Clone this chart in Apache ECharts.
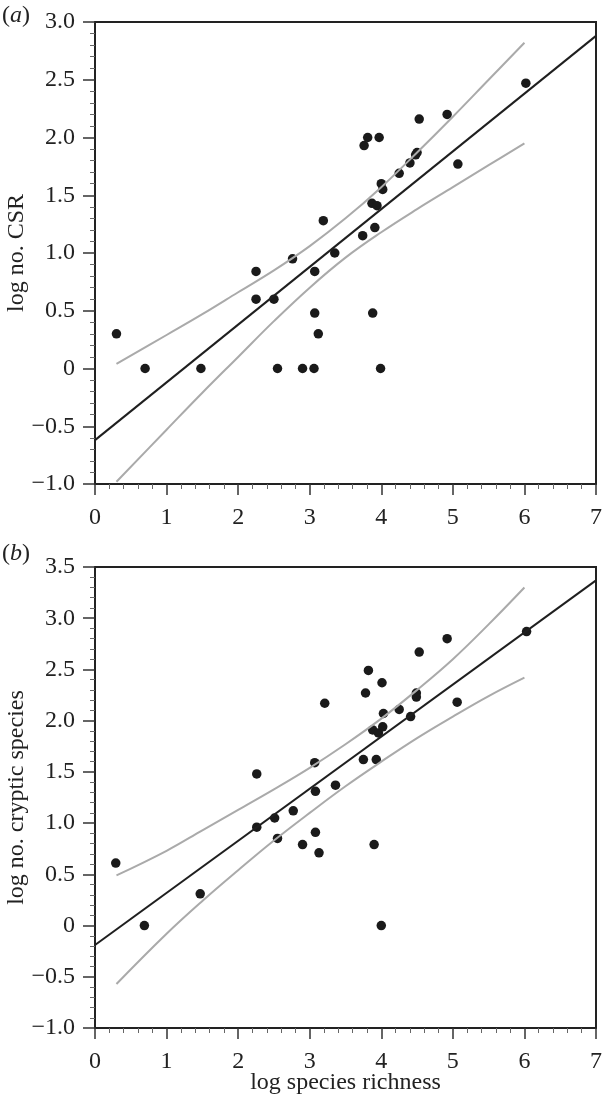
<!DOCTYPE html>
<html>
<head>
<meta charset="utf-8">
<script src="https://cdn.jsdelivr.net/npm/echarts@6/dist/echarts.min.js"></script>
<style>
  html, body { margin: 0; padding: 0; background: #fff; }
  #chart-container { width: 605px; height: 1097px; }
</style>
</head>
<body>
<div id="chart-container"></div>
<script>
// log species richness per site (same sites in both panels)
const richnessA = [0.30, 0.70, 1.48, 2.25, 2.25, 2.50, 2.55, 2.76, 2.90, 3.06, 3.07, 3.07, 3.12, 3.19, 3.35,
  3.74, 3.76, 3.81, 3.87, 3.88, 3.91, 3.94, 3.97, 3.99, 4.00, 4.02, 4.25, 4.40, 4.48, 4.50, 4.53, 4.92, 5.07, 6.02];
const csr = [0.30, 0, 0, 0.84, 0.60, 0.60, 0, 0.95, 0, 0, 0.84, 0.48, 0.30, 1.28, 1.00,
  1.15, 1.93, 2.00, 1.43, 0.48, 1.22, 1.41, 2.00, 0, 1.60, 1.55, 1.69, 1.78, 1.85, 1.87, 2.16, 2.20, 1.77, 2.47];

const richnessB = [0.29, 0.69, 1.47, 2.26, 2.26, 2.51, 2.55, 2.77, 2.90, 3.07, 3.08, 3.08, 3.13, 3.21, 3.36,
  3.75, 3.78, 3.82, 3.88, 3.90, 3.93, 3.96, 4.01, 4.00, 4.02, 4.03, 4.25, 4.41, 4.49, 4.49, 4.53, 4.92, 5.06, 6.03];
const cryptic = [0.61, 0, 0.31, 1.48, 0.96, 1.05, 0.85, 1.12, 0.79, 1.59, 1.31, 0.91, 0.71, 2.17, 1.37,
  1.62, 2.27, 2.49, 1.91, 0.79, 1.62, 1.88, 2.37, 0, 1.94, 2.07, 2.11, 2.04, 2.27, 2.23, 2.67, 2.80, 2.18, 2.87];

// fitted lines (end points)
const fitX = [0, 7];
const fitA = [-0.62, 2.88];
const fitB = [-0.19, 3.37];

// confidence bands
const bandX = [0.3, 1.0, 1.5, 2.0, 2.5, 3.0, 3.5, 4.0, 4.5, 5.0, 5.5, 6.0];
const upperA = [0.04, 0.29, 0.47, 0.66, 0.85, 1.06, 1.30, 1.57, 1.87, 2.18, 2.50, 2.82];
const lowerA = [-0.98, -0.53, -0.21, 0.10, 0.41, 0.70, 0.96, 1.18, 1.38, 1.57, 1.76, 1.95];
const upperB = [0.49, 0.73, 0.93, 1.13, 1.33, 1.54, 1.77, 2.02, 2.30, 2.60, 2.94, 3.30];
const lowerB = [-0.57, -0.08, 0.24, 0.54, 0.83, 1.10, 1.36, 1.60, 1.83, 2.04, 2.24, 2.42];

const xTicks = { min: 0, max: 7, interval: 1 };
const yTicksA = { min: -1, max: 3, interval: 0.5 };
const yTicksB = { min: -1, max: 3.5, interval: 0.5 };

const FONT = "Liberation Serif, Times New Roman, Times, serif";
const zip = (xs, ys) => xs.map((x, i) => [x, ys[i]]);
const fmtY = (v) => (v === 0 ? "0" : v.toFixed(1).replace("-", "\u2212"));

const chart = echarts.init(document.getElementById("chart-container"), null, { renderer: "canvas" });

const makeX = (gridIndex, name) => ({
  type: "value",
  gridIndex,
  ...xTicks,
  name,
  nameLocation: "middle",
  nameGap: 43,
  nameMoveOverlap: false,
  nameTextStyle: { fontFamily: FONT, fontSize: 24, color: "#222" },
  axisLine: { onZero: false, lineStyle: { color: "#222", width: 2 } },
  axisTick: { length: 11, lineStyle: { color: "#333", width: 1.5 } },
  minorTick: { show: true, splitNumber: 5, length: 5, lineStyle: { color: "#666", width: 1 } },
  axisLabel: { margin: 22, fontFamily: FONT, fontSize: 24, color: "#222" },
  splitLine: { show: false },
});

const makeY = (gridIndex, ticks, name) => ({
  type: "value",
  gridIndex,
  ...ticks,
  name,
  nameLocation: "middle",
  nameGap: 66,
  nameMoveOverlap: false,
  nameTextStyle: { fontFamily: FONT, fontSize: 24, color: "#222" },
  axisLine: { onZero: false, lineStyle: { color: "#222", width: 2 } },
  axisTick: { length: 12, lineStyle: { color: "#333", width: 1.5 } },
  minorTick: { show: true, splitNumber: 5, length: 5, lineStyle: { color: "#666", width: 1 } },
  axisLabel: { margin: 20, fontFamily: FONT, fontSize: 24, color: "#222", formatter: fmtY },
  splitLine: { show: false },
});

const lineSeries = (idx, data, color) => ({
  type: "line",
  xAxisIndex: idx,
  yAxisIndex: idx,
  data,
  showSymbol: false,
  smooth: 0.4,
  lineStyle: { color, width: 2 },
  z: 3,
  silent: true,
});

const panelLabel = (letter, top) => ({
  type: "text", left: 2, top,
  style: {
    text: "({i|" + letter + "})", fontFamily: FONT, fontSize: 24, fill: "#222",
    rich: { i: { fontStyle: "italic", fontFamily: FONT, fontSize: 24, fill: "#222" } },
  },
});

const option = {
  animation: false,
  backgroundColor: "#fff",
  grid: [
    { left: 95, right: 9, top: 22, height: 462, show: true, borderColor: "#222", borderWidth: 2, outerBoundsMode: "none" },
    { left: 95, right: 9, top: 567, height: 461, show: true, borderColor: "#222", borderWidth: 2, outerBoundsMode: "none" },
  ],
  xAxis: [makeX(0, ""), makeX(1, "log species richness")],
  yAxis: [makeY(0, yTicksA, "log no. CSR"), makeY(1, yTicksB, "log no. cryptic species")],
  graphic: [panelLabel("a", 4), panelLabel("b", 542)],
  series: [
    { type: "scatter", xAxisIndex: 0, yAxisIndex: 0, data: zip(richnessA, csr), symbolSize: 9.5, itemStyle: { color: "#1a1a1a", opacity: 1 }, z: 2 },
    { type: "scatter", xAxisIndex: 1, yAxisIndex: 1, data: zip(richnessB, cryptic), symbolSize: 9.5, itemStyle: { color: "#1a1a1a", opacity: 1 }, z: 2 },
    lineSeries(0, zip(bandX, upperA), "#aaaaaa"),
    lineSeries(0, zip(bandX, lowerA), "#aaaaaa"),
    lineSeries(1, zip(bandX, upperB), "#aaaaaa"),
    lineSeries(1, zip(bandX, lowerB), "#aaaaaa"),
    lineSeries(0, zip(fitX, fitA), "#1f1f1f"),
    lineSeries(1, zip(fitX, fitB), "#1f1f1f"),
  ],
};

chart.setOption(option);
</script>
</body>
</html>
